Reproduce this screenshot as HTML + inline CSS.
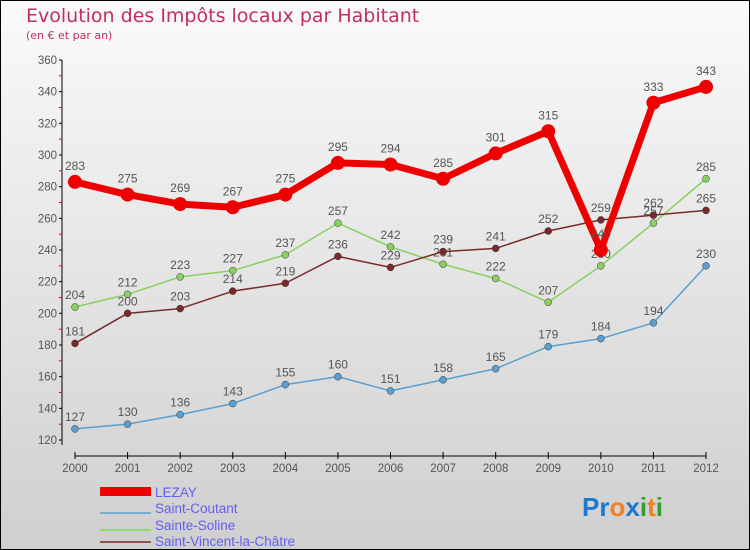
<!DOCTYPE html>
<html><head><meta charset="utf-8"><style>
body{margin:0;width:750px;height:550px;overflow:hidden;font-family:"DejaVu Sans","Liberation Sans",sans-serif;}
#c{position:absolute;left:0;top:0;width:748px;height:548px;border:1px solid #000;background:linear-gradient(#fafafa,#cfcfcf);}
</style></head><body>
<div id="c">
<svg id="s" width="750" height="550" xmlns="http://www.w3.org/2000/svg" style="position:absolute;left:-1px;top:-1px">
<text x="26" y="22" font-size="19" fill="#c0305a">Evolution des Impôts locaux par Habitant</text>
<text x="26" y="39" font-size="11" fill="#c0305a">(en € et par an)</text>
<g id="axes"></g><g id="series"></g>
<g font-size="13.5" fill="#6060f0" font-family="Liberation Sans,sans-serif">
<rect x="100" y="487" width="51" height="9" fill="#e00"/><text x="155" y="497">LEZAY</text>
<line x1="100" y1="513" x2="151" y2="513" stroke="#7aaed0" stroke-width="2"/><text x="155" y="513">Saint-Coutant</text>
<line x1="100" y1="530" x2="151" y2="530" stroke="#90d870" stroke-width="2"/><text x="155" y="530">Sainte-Soline</text>
<line x1="100" y1="542" x2="151" y2="542" stroke="#905050" stroke-width="2"/><text x="155" y="546">Saint-Vincent-la-Châtre</text>
</g>
<text x="582" y="516" font-size="26" font-family="Liberation Sans,sans-serif" font-weight="bold"><tspan fill="#1a7ad0">Pr</tspan><tspan fill="#f08020">o</tspan><tspan fill="#1a7ad0">x</tspan><tspan fill="#30a030">i</tspan><tspan fill="#f08020">t</tspan><tspan fill="#30a030">i</tspan></text>
</svg></div>
<script>
const years=[2000,2001,2002,2003,2004,2005,2006,2007,2008,2009,2010,2011,2012];
const yTicks=[120,140,160,180,200,220,240,260,280,300,320,340,360];
const lezay=[283,275,269,267,275,295,294,285,301,315,240,333,343];
const coutant=[127,130,136,143,155,160,151,158,165,179,184,194,230];
const soline=[204,212,223,227,237,257,242,231,222,207,230,257,285];
const vincent=[181,200,203,214,219,236,229,239,241,252,259,262,265];
const NS="http://www.w3.org/2000/svg";
const X=i=>75+i*(706-75)/12, Y=v=>60+(360-v)*380/240;
function mk(t,a,p){const e=document.createElementNS(NS,t);for(const k in a)e.setAttribute(k,a[k]);p.appendChild(e);return e;}
const ax=document.getElementById('axes'),se=document.getElementById('series');
const ya=mk('line',{x1:62,y1:60,x2:62,y2:445,stroke:'#000'},ax);


yTicks.forEach(v=>{mk('line',{x1:59,y1:Y(v),x2:62,y2:Y(v),stroke:'#000'},ax);
const t=mk('text',{x:57,y:Y(v)+4,'text-anchor':'end','font-size':11.5,fill:'#555','font-family':'Liberation Sans,sans-serif'},ax);t.textContent=v;


if(v<360)mk('line',{x1:59,y1:Y(v+10),x2:62,y2:Y(v+10),stroke:'#e00'},ax);});
const xa=mk('line',{x1:75,y1:456,x2:706,y2:456,stroke:'#000'},ax);


years.forEach((y,i)=>{mk('line',{x1:X(i),y1:452,x2:X(i),y2:459,stroke:'#000'},ax);
const t=mk('text',{x:X(i),y:472,'text-anchor':'middle','font-size':11.5,fill:'#555','font-family':'Liberation Sans,sans-serif'},ax);t.textContent=y;

});
function draw(d,col,w,r,name){const g=mk('g',{},se);


mk('polyline',{points:d.map((v,i)=>X(i)+','+Y(v)).join(' '),fill:'none',stroke:col,'stroke-width':w,'stroke-linejoin':'round'},g);
d.forEach((v,i)=>{const c=mk('circle',{cx:X(i),cy:Y(v),r:r,fill:col,stroke:'#333','stroke-width':r>5?0:0.5},g);


const t=mk('text',{x:X(i),y:Y(v)-(r>5?12:8),'text-anchor':'middle','font-size':12,fill:'#555','font-family':'Liberation Sans,sans-serif'},g);t.textContent=v;

});}
draw(coutant,'#5a9fd0',1.5,3.5,'series-saint-coutant');
draw(soline,'#8ad060',1.5,3.5,'series-sainte-soline');
draw(vincent,'#7a2a2a',1.5,3.5,'series-saint-vincent');
draw(lezay,'#ee0000',7,7,'series-lezay');
</script>
</body></html>
